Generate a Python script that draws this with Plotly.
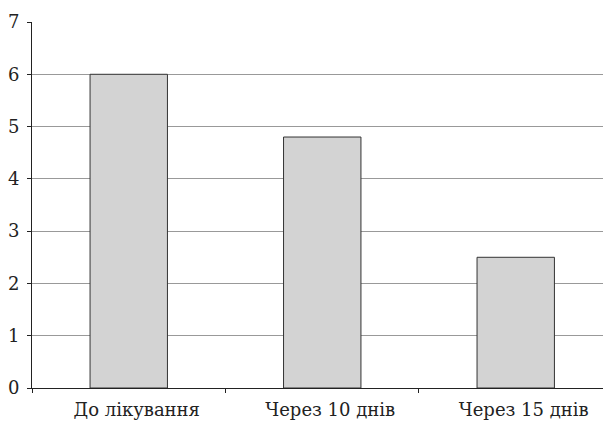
import plotly.graph_objects as go

categories = ["До лікування", "Через 10 днів", "Через 15 днів"]
values = [6, 4.8, 2.5]
y_ticks = [0, 1, 2, 3, 4, 5, 6, 7]

fig = go.Figure(go.Bar(
    x=categories, y=values, width=0.4,
    marker=dict(color="#d3d3d3", line=dict(color="#333333", width=1)),
))

fig.update_layout(
    width=603, height=444,
    margin=dict(l=32, r=0, t=22, b=56, autoexpand=False),
    plot_bgcolor="white", paper_bgcolor="white",
    font=dict(family="DejaVu Serif", size=18, color="#222222"),
    showlegend=False,
)
fig.update_xaxes(
    type="category", range=[-0.5, 2.451], automargin=False,
    showline=True, linecolor="#222222", linewidth=1,
    ticks="outside", tickson="boundaries", ticklen=4, tickcolor="#222222",
    showgrid=False, ticklabelstandoff=5, ticklabelshift=8,
)
fig.update_yaxes(
    range=[0, 7], tickvals=y_ticks, automargin=False,
    showline=True, linecolor="#222222", linewidth=1,
    ticks="outside", ticklen=4, tickcolor="#222222",
    showgrid=True, gridcolor="#999999", gridwidth=1,
    zeroline=False, ticklabelstandoff=4,
)

fig.write_html("out.html", config={"displayModeBar": False},
               post_script="document.body.style.margin='0';")
